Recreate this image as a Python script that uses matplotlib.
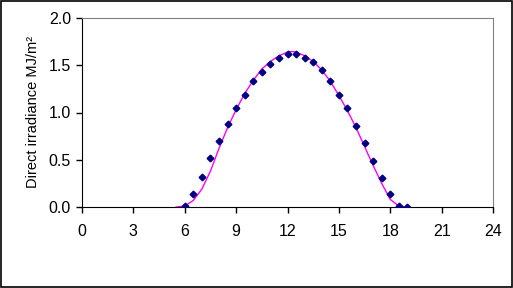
import matplotlib
matplotlib.use("Agg")
import matplotlib.pyplot as plt
from matplotlib.patches import Rectangle

plt.rcParams['font.family'] = ['Liberation Sans', 'DejaVu Sans']

# measured points (half-hourly)
hours = [6.0, 6.5, 7.0, 7.5, 8.0, 8.5, 9.0, 9.5, 10.0, 10.5, 11.0, 11.5, 12.0,
         12.5, 13.0, 13.5, 14.0, 14.5, 15.0, 15.5, 16.0, 16.5, 17.0, 17.5,
         18.0, 18.5, 19.0]
measured = [0.01, 0.14, 0.32, 0.52, 0.70, 0.88, 1.05, 1.19, 1.33, 1.43, 1.51,
            1.58, 1.62, 1.62, 1.58, 1.53, 1.45, 1.33, 1.19, 1.05, 0.86, 0.68,
            0.49, 0.31, 0.14, 0.01, 0.00]

# model curve
model_hours = [5.5, 6.0, 6.5, 7.0, 7.5, 8.0, 8.5, 9.0, 9.5, 10.0, 10.5, 11.0,
               11.5, 12.0, 12.25, 12.5, 13.0, 13.5, 14.0, 14.5, 15.0, 15.5,
               16.0, 16.5, 17.0, 17.5, 18.0, 18.5, 18.9]
model = [0.0, 0.01, 0.07, 0.19, 0.38, 0.62, 0.84, 1.03, 1.20, 1.34, 1.46,
         1.54, 1.60, 1.64, 1.645, 1.64, 1.60, 1.54, 1.45, 1.33, 1.18, 1.02,
         0.84, 0.64, 0.44, 0.25, 0.08, 0.01, 0.0]

fig = plt.figure(figsize=(5.13, 2.88), dpi=100)
ax = fig.add_axes([82 / 513, 1 - 207 / 288, 411 / 513, 189 / 288])

ax.plot(model_hours, model, color='#ff00ff', lw=1.0, zorder=2)
ax.plot(hours, measured, linestyle='none', marker='D', ms=3.4,
        color='#000080', zorder=3)

ax.set_xlim(0, 24)
ax.set_ylim(0, 2.0)
ax.set_xticks(range(0, 25, 3))
ax.set_yticks([0, 0.5, 1.0, 1.5, 2.0])
ax.set_yticklabels(['0.0', '0.5', '1.0', '1.5', '2.0'])
ax.tick_params(direction='out', length=4, width=1, labelsize=11.5,
               color='black', pad=4)
ax.tick_params(axis='x', pad=8)

for side in ('top', 'right'):
    ax.spines[side].set_color('#808080')
for side in ('left', 'bottom'):
    ax.spines[side].set_color('black')
ax.set_ylabel('Direct irradiance MJ/m²', fontsize=10.5, labelpad=6)

# outer border
fig.patches.append(Rectangle((0.001, 0.002), 0.997, 0.995, transform=fig.transFigure,
                             fill=False, edgecolor='black', lw=1.2))

fig.savefig('out.png', dpi=100)
